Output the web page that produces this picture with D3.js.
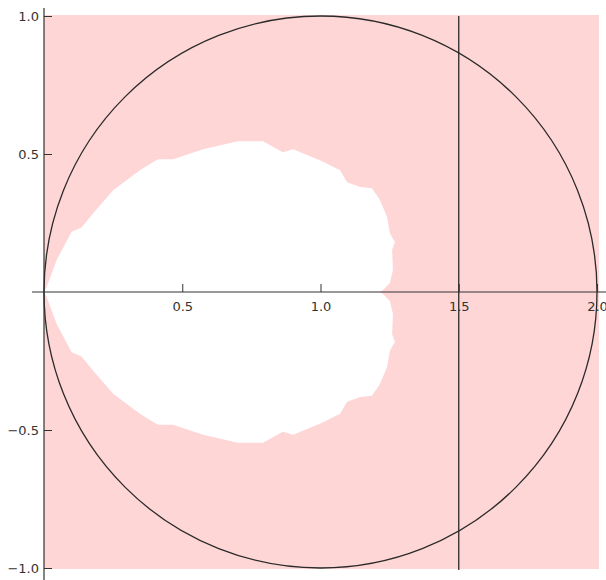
<!DOCTYPE html>
<html>
<head>
<meta charset="utf-8">
<script src="https://cdn.jsdelivr.net/npm/d3@7"></script>
<style>
  body { margin: 0; background: #fff; }
  text { font-family: "DejaVu Sans", sans-serif; font-size: 13px; fill: #333; }
</style>
</head>
<body>
<div class="svg-content"></div>
<script>
// upper half of the white region boundary (x, y)
var boundaryX = [0, 0.010, 0.046, 0.100, 0.136, 0.178, 0.250, 0.347, 0.394, 0.412, 0.467, 0.575,
                 0.702, 0.792, 0.864, 0.901, 0.998, 1.071, 1.096, 1.143, 1.186, 1.215, 1.241,
                 1.251, 1.269, 1.259, 1.262, 1.251, 1.226, 1.215];
var boundaryY = [0, 0.019, 0.116, 0.218, 0.234, 0.285, 0.369, 0.441, 0.470, 0.481, 0.481, 0.517,
                 0.546, 0.546, 0.506, 0.517, 0.477, 0.441, 0.398, 0.380, 0.376, 0.333, 0.271,
                 0.213, 0.181, 0.152, 0.080, 0.033, 0.007, 0];

var circle = { cx: 1, cy: 0, r: 1 };
var vline = 1.5;

var xMajor = [0.5, 1.0, 1.5, 2.0];
var xMinor = [0.1, 0.2, 0.3, 0.4, 0.6, 0.7, 0.8, 0.9, 1.1, 1.2, 1.3, 1.4, 1.6, 1.7, 1.8, 1.9];
var yMajor = [-1.0, -0.5, 0.5, 1.0];
var yMinor = [-0.9, -0.8, -0.7, -0.6, -0.4, -0.3, -0.2, -0.1, 0.1, 0.2, 0.3, 0.4, 0.6, 0.7, 0.8, 0.9];

var width = 606, height = 580;

var svg = d3.select(".svg-content")
  .append("svg")
  .attr("width", width)
  .attr("height", height);

var x = d3.scaleLinear().domain([0, 2]).range([44, 597]);
var y = d3.scaleLinear().domain([-1, 1]).range([568, 16]);

// pink background over the plotted region
svg.append("rect")
  .attr("x", x(0))
  .attr("y", y(1) - 1)
  .attr("width", x(2) - x(0) + 2)
  .attr("height", y(-1) - y(1) + 2)
  .attr("fill", "#ffd6d6");

// white region, upper half then mirrored lower half
var upper = boundaryX.map(function(d, i) { return [d, boundaryY[i]]; });
var lower = upper.slice().reverse().map(function(d) { return [d[0], -d[1]]; });
var pts = upper.concat(lower);

svg.append("path")
  .attr("d", d3.line().x(function(d) { return x(d[0]); }).y(function(d) { return y(d[1]); })(pts) + "Z")
  .attr("fill", "#fff")
  .attr("stroke", "none");

// circle
svg.append("ellipse")
  .attr("cx", x(circle.cx))
  .attr("cy", y(circle.cy))
  .attr("rx", x(circle.cx + circle.r) - x(circle.cx))
  .attr("ry", y(circle.cy) - y(circle.cy + circle.r))
  .attr("fill", "none")
  .attr("stroke", "#2a2a2a")
  .attr("stroke-width", 1.3);

// vertical line
svg.append("line")
  .attr("x1", x(vline)).attr("x2", x(vline))
  .attr("y1", y(1)).attr("y2", y(-1) + 2)
  .attr("stroke", "#2a2a2a")
  .attr("stroke-width", 1.3);

// axis lines
svg.append("line")
  .attr("x1", 32).attr("x2", width)
  .attr("y1", y(0)).attr("y2", y(0))
  .attr("stroke", "#333").attr("stroke-width", 1.2);
svg.append("line")
  .attr("x1", x(0)).attr("x2", x(0))
  .attr("y1", 8).attr("y2", height)
  .attr("stroke", "#333").attr("stroke-width", 1.2);

// x ticks (pointing up) and labels
var gx = svg.append("g").attr("transform", "translate(0," + y(0) + ")");
gx.call(d3.axisBottom(x).tickValues(xMinor).tickSize(-4).tickFormat(""));
gx.call(d3.axisBottom(x).tickValues(xMajor).tickSize(-8).tickPadding(10).tickFormat(d3.format(".1f")));
gx.selectAll(".domain").remove();
gx.selectAll("line").attr("stroke", "#333");
gx.selectAll("text").attr("fill", "#333").style("font-size", "13px").style("font-family", "DejaVu Sans");

// y ticks (pointing right) and labels
var gy = svg.append("g").attr("transform", "translate(" + x(0) + ",0)");
gy.call(d3.axisLeft(y).tickValues(yMinor).tickSize(-5).tickFormat(""));
gy.call(d3.axisLeft(y).tickValues(yMajor).tickSize(-8).tickPadding(5).tickFormat(d3.format(".1f")));
gy.selectAll(".domain").remove();
gy.selectAll("line").attr("stroke", "#333");
gy.selectAll("text").attr("fill", "#333").style("font-size", "13px").style("font-family", "DejaVu Sans");
</script>
</body>
</html>
